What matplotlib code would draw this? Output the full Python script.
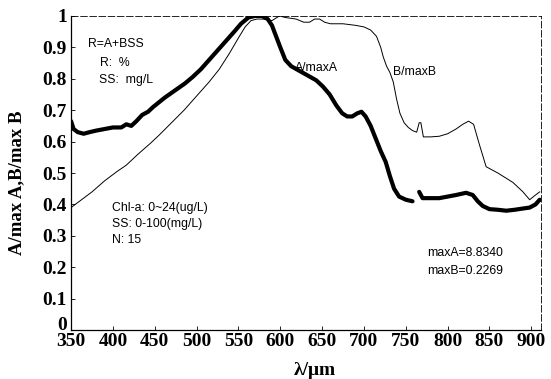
import numpy as np
import matplotlib
matplotlib.use("Agg")
import matplotlib.pyplot as plt
import matplotlib.transforms as mtrans

# ---- data ----
A_x = [350, 353, 358, 365, 372, 380, 390, 400, 410, 416, 422, 428, 435, 442, 448, 455,
       462, 470, 478, 486, 495, 505, 515, 525, 535, 545, 553, 562, 570, 578, 585, 590,
       595, 600, 606, 613, 623, 633, 643, 651, 659, 667, 674, 680, 686, 692, 697, 702,
       708, 714, 720, 726, 731, 736, 742, 750, 758, np.nan, 766, 770, 778, 790, 800,
       810, 822, 830, 836, 842, 850, 860, 870, 880, 890, 898, 905, 910]
A_y = [0.665, 0.64, 0.63, 0.625, 0.63, 0.635, 0.64, 0.645, 0.645, 0.655, 0.65, 0.665,
       0.685, 0.695, 0.71, 0.725, 0.74, 0.755, 0.77, 0.785, 0.805, 0.83, 0.86, 0.89,
       0.92, 0.95, 0.975, 0.995, 1.0, 1.0, 0.99, 0.97, 0.935, 0.9, 0.86, 0.84, 0.825,
       0.81, 0.795, 0.775, 0.75, 0.715, 0.69, 0.68, 0.68, 0.69, 0.695, 0.68, 0.65, 0.61,
       0.57, 0.535, 0.49, 0.45, 0.425, 0.415, 0.41, np.nan, 0.44, 0.42, 0.42, 0.42, 0.425,
       0.43, 0.437, 0.43, 0.41, 0.395, 0.385, 0.383, 0.38, 0.383, 0.387, 0.39, 0.40, 0.415]

B_x = [350, 360, 375, 390, 405, 416, 430, 445, 455, 470, 485, 500, 515, 527, 539, 550,
       558, 565, 572, 580, 590, 599, 606, 619, 628, 635, 641, 647, 653, 660, 675, 690,
       700, 708, 715, 720, 723, 727, 731, 735, 739, 743, 748, 753, 758, 763, 766, 768,
       771, 780, 790, 800, 810, 818, 825, 831, 838, 846, 860, 878, 890, 898, 905, 910]
B_y = [0.39, 0.41, 0.44, 0.475, 0.505, 0.525, 0.56, 0.595, 0.62, 0.66, 0.70, 0.745,
       0.79, 0.83, 0.88, 0.93, 0.965, 0.985, 0.99, 0.99, 0.985, 1.0, 0.995, 0.99, 0.98,
       0.98, 0.99, 0.99, 0.98, 0.975, 0.975, 0.97, 0.965, 0.955, 0.935, 0.9, 0.87, 0.84,
       0.82, 0.79, 0.735, 0.69, 0.66, 0.645, 0.635, 0.63, 0.66, 0.66, 0.615, 0.615, 0.617,
       0.625, 0.64, 0.655, 0.665, 0.655, 0.59, 0.52, 0.5, 0.47, 0.44, 0.415, 0.43, 0.44]

x_ticks = [350, 400, 450, 500, 550, 600, 650, 700, 750, 800, 850, 900]
y_ticks = [0, 0.1, 0.2, 0.3, 0.4, 0.5, 0.6, 0.7, 0.8, 0.9, 1]
y_ticklabels = ["0", "0.1", "0.2", "0.3", "0.4", "0.5", "0.6", "0.7", "0.8", "0.9", "1"]

# ---- figure ----
fig = plt.figure(figsize=(5.51, 3.79), dpi=100)
ax = fig.add_axes([0.129, 0.129, 0.852, 0.829])

ax.plot(A_x, A_y, color="black", lw=3.0, solid_capstyle="round", solid_joinstyle="round")
ax.plot(B_x, B_y, color="black", lw=0.7)

ax.set_xlim(350, 911)
ax.set_ylim(0, 1.0)
ax.set_xticks(x_ticks)
ax.set_yticks(y_ticks)
ax.set_yticklabels(y_ticklabels)

serif = ["Liberation Serif", "DejaVu Serif"]
sans = ["Liberation Sans", "DejaVu Sans"]
for lab in ax.get_xticklabels() + ax.get_yticklabels():
    lab.set_fontfamily(serif)
    lab.set_fontweight("bold")
    lab.set_fontsize(14)
ax.tick_params(direction="in", length=3, width=0.6)
ax.tick_params(axis="x", pad=2)
ax.tick_params(axis="y", pad=3)

# nudge the "0" label up a little so it sits above "350" as in the reference
zero_lab = ax.get_yticklabels()[0]
zero_lab.set_transform(zero_lab.get_transform() +
                       mtrans.ScaledTranslation(0, 5 / 72, fig.dpi_scale_trans))

for s in ["left", "bottom"]:
    ax.spines[s].set_linewidth(0.9)
for s in ["top", "right"]:
    ax.spines[s].set_linewidth(0.6)
    ax.spines[s].set_linestyle((0, (8, 3)))

ax.set_xlabel("λ/μm", fontfamily=serif, fontweight="bold", fontsize=14)
ax.xaxis.set_label_coords(0.52, -0.1)
ax.set_ylabel("A/max A,B/max B", fontfamily=serif, fontweight="bold", fontsize=13.5)
ax.yaxis.set_label_coords(-0.097, 0.47)

fs = 8.8
ax.text(370, 0.91, "R=A+BSS", fontfamily=sans, fontsize=fs, va="center")
ax.text(385, 0.85, "R:  %", fontfamily=sans, fontsize=fs, va="center")
ax.text(383, 0.795, "SS:  mg/L", fontfamily=sans, fontsize=fs, va="center")
ax.text(399, 0.39, "Chl-a: 0~24(ug/L)", fontfamily=sans, fontsize=fs, va="center")
ax.text(399, 0.337, "SS: 0-100(mg/L)", fontfamily=sans, fontsize=fs, va="center")
ax.text(399, 0.288, "N: 15", fontfamily=sans, fontsize=fs, va="center")
ax.text(617, 0.835, "A/maxA", fontfamily=sans, fontsize=fs, va="center")
ax.text(735, 0.822, "B/maxB", fontfamily=sans, fontsize=fs, va="center")
ax.text(776, 0.246, "maxA=8.8340", fontfamily=sans, fontsize=fs, va="center")
ax.text(776, 0.188, "maxB=0.2269", fontfamily=sans, fontsize=fs, va="center")

fig.savefig("out.png", dpi=100)
